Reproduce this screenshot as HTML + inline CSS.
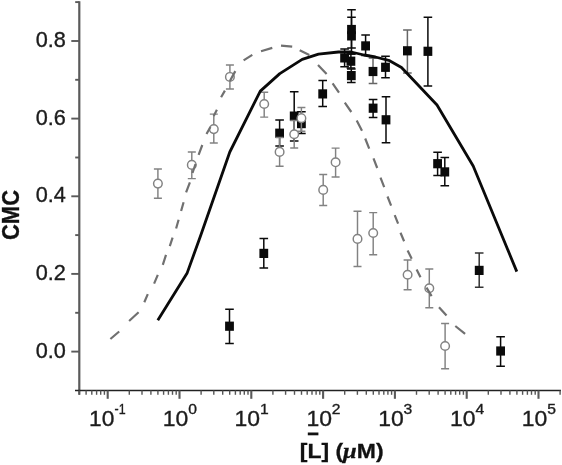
<!DOCTYPE html>
<html><head><meta charset="utf-8"><title>CMC plot</title>
<style>html,body{margin:0;padding:0;background:#fff}svg{display:block}text{font-family:"Liberation Sans",Arial,sans-serif}</style></head><body>
<svg width="562" height="465" viewBox="0 0 562 465">
<rect width="562" height="465" fill="#fff"/>
<line x1="79.3" y1="1.3" x2="79.3" y2="394.8" stroke="#5a5a5a" stroke-width="2.2"/>
<line x1="75" y1="390.5" x2="561" y2="390.5" stroke="#222" stroke-width="1.5"/>
<line x1="71.3" y1="351.6" x2="79.3" y2="351.6" stroke="#5a5a5a" stroke-width="1.9"/>
<line x1="75.2" y1="312.8" x2="79.3" y2="312.8" stroke="#5a5a5a" stroke-width="1.9"/>
<line x1="71.3" y1="273.9" x2="79.3" y2="273.9" stroke="#5a5a5a" stroke-width="1.9"/>
<line x1="75.2" y1="235.1" x2="79.3" y2="235.1" stroke="#5a5a5a" stroke-width="1.9"/>
<line x1="71.3" y1="196.3" x2="79.3" y2="196.3" stroke="#5a5a5a" stroke-width="1.9"/>
<line x1="75.2" y1="157.5" x2="79.3" y2="157.5" stroke="#5a5a5a" stroke-width="1.9"/>
<line x1="71.3" y1="118.6" x2="79.3" y2="118.6" stroke="#5a5a5a" stroke-width="1.9"/>
<line x1="75.2" y1="79.8" x2="79.3" y2="79.8" stroke="#5a5a5a" stroke-width="1.9"/>
<line x1="71.3" y1="41.0" x2="79.3" y2="41.0" stroke="#5a5a5a" stroke-width="1.9"/>
<line x1="75.2" y1="2.1" x2="79.3" y2="2.1" stroke="#5a5a5a" stroke-width="1.9"/>
<line x1="79.3" y1="390.5" x2="79.3" y2="394.8" stroke="#555" stroke-width="1.4"/>
<line x1="86.1" y1="390.5" x2="86.1" y2="394.8" stroke="#555" stroke-width="1.4"/>
<line x1="91.8" y1="390.5" x2="91.8" y2="394.8" stroke="#555" stroke-width="1.4"/>
<line x1="96.6" y1="390.5" x2="96.6" y2="394.8" stroke="#555" stroke-width="1.4"/>
<line x1="100.7" y1="390.5" x2="100.7" y2="394.8" stroke="#555" stroke-width="1.4"/>
<line x1="104.4" y1="390.5" x2="104.4" y2="394.8" stroke="#555" stroke-width="1.4"/>
<line x1="107.7" y1="390.5" x2="107.7" y2="398.8" stroke="#5a5a5a" stroke-width="2.1"/>
<line x1="129.3" y1="390.5" x2="129.3" y2="394.8" stroke="#555" stroke-width="1.4"/>
<line x1="142.0" y1="390.5" x2="142.0" y2="394.8" stroke="#555" stroke-width="1.4"/>
<line x1="150.9" y1="390.5" x2="150.9" y2="394.8" stroke="#555" stroke-width="1.4"/>
<line x1="157.9" y1="390.5" x2="157.9" y2="394.8" stroke="#555" stroke-width="1.4"/>
<line x1="163.6" y1="390.5" x2="163.6" y2="394.8" stroke="#555" stroke-width="1.4"/>
<line x1="168.4" y1="390.5" x2="168.4" y2="394.8" stroke="#555" stroke-width="1.4"/>
<line x1="172.5" y1="390.5" x2="172.5" y2="394.8" stroke="#555" stroke-width="1.4"/>
<line x1="176.2" y1="390.5" x2="176.2" y2="394.8" stroke="#555" stroke-width="1.4"/>
<line x1="179.5" y1="390.5" x2="179.5" y2="398.8" stroke="#5a5a5a" stroke-width="2.1"/>
<line x1="201.1" y1="390.5" x2="201.1" y2="394.8" stroke="#555" stroke-width="1.4"/>
<line x1="213.8" y1="390.5" x2="213.8" y2="394.8" stroke="#555" stroke-width="1.4"/>
<line x1="222.7" y1="390.5" x2="222.7" y2="394.8" stroke="#555" stroke-width="1.4"/>
<line x1="229.7" y1="390.5" x2="229.7" y2="394.8" stroke="#555" stroke-width="1.4"/>
<line x1="235.4" y1="390.5" x2="235.4" y2="394.8" stroke="#555" stroke-width="1.4"/>
<line x1="240.2" y1="390.5" x2="240.2" y2="394.8" stroke="#555" stroke-width="1.4"/>
<line x1="244.3" y1="390.5" x2="244.3" y2="394.8" stroke="#555" stroke-width="1.4"/>
<line x1="248.0" y1="390.5" x2="248.0" y2="394.8" stroke="#555" stroke-width="1.4"/>
<line x1="251.3" y1="390.5" x2="251.3" y2="398.8" stroke="#5a5a5a" stroke-width="2.1"/>
<line x1="272.9" y1="390.5" x2="272.9" y2="394.8" stroke="#555" stroke-width="1.4"/>
<line x1="285.6" y1="390.5" x2="285.6" y2="394.8" stroke="#555" stroke-width="1.4"/>
<line x1="294.5" y1="390.5" x2="294.5" y2="394.8" stroke="#555" stroke-width="1.4"/>
<line x1="301.5" y1="390.5" x2="301.5" y2="394.8" stroke="#555" stroke-width="1.4"/>
<line x1="307.2" y1="390.5" x2="307.2" y2="394.8" stroke="#555" stroke-width="1.4"/>
<line x1="312.0" y1="390.5" x2="312.0" y2="394.8" stroke="#555" stroke-width="1.4"/>
<line x1="316.1" y1="390.5" x2="316.1" y2="394.8" stroke="#555" stroke-width="1.4"/>
<line x1="319.8" y1="390.5" x2="319.8" y2="394.8" stroke="#555" stroke-width="1.4"/>
<line x1="323.1" y1="390.5" x2="323.1" y2="398.8" stroke="#5a5a5a" stroke-width="2.1"/>
<line x1="344.7" y1="390.5" x2="344.7" y2="394.8" stroke="#555" stroke-width="1.4"/>
<line x1="357.4" y1="390.5" x2="357.4" y2="394.8" stroke="#555" stroke-width="1.4"/>
<line x1="366.3" y1="390.5" x2="366.3" y2="394.8" stroke="#555" stroke-width="1.4"/>
<line x1="373.3" y1="390.5" x2="373.3" y2="394.8" stroke="#555" stroke-width="1.4"/>
<line x1="379.0" y1="390.5" x2="379.0" y2="394.8" stroke="#555" stroke-width="1.4"/>
<line x1="383.8" y1="390.5" x2="383.8" y2="394.8" stroke="#555" stroke-width="1.4"/>
<line x1="387.9" y1="390.5" x2="387.9" y2="394.8" stroke="#555" stroke-width="1.4"/>
<line x1="391.6" y1="390.5" x2="391.6" y2="394.8" stroke="#555" stroke-width="1.4"/>
<line x1="394.9" y1="390.5" x2="394.9" y2="398.8" stroke="#5a5a5a" stroke-width="2.1"/>
<line x1="416.5" y1="390.5" x2="416.5" y2="394.8" stroke="#555" stroke-width="1.4"/>
<line x1="429.2" y1="390.5" x2="429.2" y2="394.8" stroke="#555" stroke-width="1.4"/>
<line x1="438.1" y1="390.5" x2="438.1" y2="394.8" stroke="#555" stroke-width="1.4"/>
<line x1="445.1" y1="390.5" x2="445.1" y2="394.8" stroke="#555" stroke-width="1.4"/>
<line x1="450.8" y1="390.5" x2="450.8" y2="394.8" stroke="#555" stroke-width="1.4"/>
<line x1="455.6" y1="390.5" x2="455.6" y2="394.8" stroke="#555" stroke-width="1.4"/>
<line x1="459.7" y1="390.5" x2="459.7" y2="394.8" stroke="#555" stroke-width="1.4"/>
<line x1="463.4" y1="390.5" x2="463.4" y2="394.8" stroke="#555" stroke-width="1.4"/>
<line x1="466.7" y1="390.5" x2="466.7" y2="398.8" stroke="#5a5a5a" stroke-width="2.1"/>
<line x1="488.3" y1="390.5" x2="488.3" y2="394.8" stroke="#555" stroke-width="1.4"/>
<line x1="501.0" y1="390.5" x2="501.0" y2="394.8" stroke="#555" stroke-width="1.4"/>
<line x1="509.9" y1="390.5" x2="509.9" y2="394.8" stroke="#555" stroke-width="1.4"/>
<line x1="516.9" y1="390.5" x2="516.9" y2="394.8" stroke="#555" stroke-width="1.4"/>
<line x1="522.6" y1="390.5" x2="522.6" y2="394.8" stroke="#555" stroke-width="1.4"/>
<line x1="527.4" y1="390.5" x2="527.4" y2="394.8" stroke="#555" stroke-width="1.4"/>
<line x1="531.5" y1="390.5" x2="531.5" y2="394.8" stroke="#555" stroke-width="1.4"/>
<line x1="535.2" y1="390.5" x2="535.2" y2="394.8" stroke="#555" stroke-width="1.4"/>
<line x1="538.5" y1="390.5" x2="538.5" y2="398.8" stroke="#5a5a5a" stroke-width="2.1"/>
<line x1="560.1" y1="390.5" x2="560.1" y2="394.8" stroke="#555" stroke-width="1.4"/>
<text transform="translate(65.9,357.5) scale(1.01,1)" font-size="21.5" font-weight="normal" text-anchor="end" fill="#1c1c1c" stroke="#1c1c1c" stroke-width="0.35" >0.0</text>
<text transform="translate(65.9,279.8) scale(1.01,1)" font-size="21.5" font-weight="normal" text-anchor="end" fill="#1c1c1c" stroke="#1c1c1c" stroke-width="0.35" >0.2</text>
<text transform="translate(65.9,202.2) scale(1.01,1)" font-size="21.5" font-weight="normal" text-anchor="end" fill="#1c1c1c" stroke="#1c1c1c" stroke-width="0.35" >0.4</text>
<text transform="translate(65.9,124.5) scale(1.01,1)" font-size="21.5" font-weight="normal" text-anchor="end" fill="#1c1c1c" stroke="#1c1c1c" stroke-width="0.35" >0.6</text>
<text transform="translate(65.9,46.9) scale(1.01,1)" font-size="21.5" font-weight="normal" text-anchor="end" fill="#1c1c1c" stroke="#1c1c1c" stroke-width="0.35" >0.8</text>
<text transform="translate(89.0,426.4) scale(1.02,1)" font-size="22.3" font-weight="normal" text-anchor="start" fill="#1c1c1c" stroke="#1c1c1c" stroke-width="0.35" >10</text>
<text transform="translate(114.6,414.4) scale(0.86,1)" font-size="14.5" font-weight="normal" text-anchor="start" fill="#1c1c1c" stroke="#1c1c1c" stroke-width="0.35" >-1</text>
<text transform="translate(162.8,426.4) scale(1.03,1)" font-size="22.3" font-weight="normal" text-anchor="start" fill="#1c1c1c" stroke="#1c1c1c" stroke-width="0.35" >10</text>
<text transform="translate(188.2,414.4) scale(1.08,1)" font-size="14.5" font-weight="normal" text-anchor="start" fill="#1c1c1c" stroke="#1c1c1c" stroke-width="0.35" >0</text>
<text transform="translate(234.6,426.4) scale(1.03,1)" font-size="22.3" font-weight="normal" text-anchor="start" fill="#1c1c1c" stroke="#1c1c1c" stroke-width="0.35" >10</text>
<text transform="translate(260.0,414.4) scale(1.08,1)" font-size="14.5" font-weight="normal" text-anchor="start" fill="#1c1c1c" stroke="#1c1c1c" stroke-width="0.35" >1</text>
<text transform="translate(306.4,426.4) scale(1.03,1)" font-size="22.3" font-weight="normal" text-anchor="start" fill="#1c1c1c" stroke="#1c1c1c" stroke-width="0.35" >10</text>
<text transform="translate(331.8,414.4) scale(1.08,1)" font-size="14.5" font-weight="normal" text-anchor="start" fill="#1c1c1c" stroke="#1c1c1c" stroke-width="0.35" >2</text>
<text transform="translate(378.2,426.4) scale(1.03,1)" font-size="22.3" font-weight="normal" text-anchor="start" fill="#1c1c1c" stroke="#1c1c1c" stroke-width="0.35" >10</text>
<text transform="translate(403.6,414.4) scale(1.08,1)" font-size="14.5" font-weight="normal" text-anchor="start" fill="#1c1c1c" stroke="#1c1c1c" stroke-width="0.35" >3</text>
<text transform="translate(450.0,426.4) scale(1.03,1)" font-size="22.3" font-weight="normal" text-anchor="start" fill="#1c1c1c" stroke="#1c1c1c" stroke-width="0.35" >10</text>
<text transform="translate(475.4,414.4) scale(1.08,1)" font-size="14.5" font-weight="normal" text-anchor="start" fill="#1c1c1c" stroke="#1c1c1c" stroke-width="0.35" >4</text>
<text transform="translate(521.8,426.4) scale(1.03,1)" font-size="22.3" font-weight="normal" text-anchor="start" fill="#1c1c1c" stroke="#1c1c1c" stroke-width="0.35" >10</text>
<text transform="translate(547.2,414.4) scale(1.08,1)" font-size="14.5" font-weight="normal" text-anchor="start" fill="#1c1c1c" stroke="#1c1c1c" stroke-width="0.35" >5</text>
<text transform="translate(19.3,215) rotate(-90) scale(1,1.12)" font-size="22" font-weight="bold" text-anchor="middle" fill="#111" stroke="#111" stroke-width="0.3">CMC</text>
<text transform="translate(299.8,458.2) scale(1.12,1)" font-size="20.5" font-weight="bold" fill="#111" stroke="#111" stroke-width="0.3">[L] (<tspan font-style="italic" font-size="22" font-family="Liberation Serif,serif">μ</tspan>M)</text>
<rect x="307.8" y="432.5" width="10.6" height="2.8" fill="#111"/>
<path d="M229.5,309.3V343.6M225.2,309.3H233.8M225.2,343.6H233.8" stroke="#0a0a0a" stroke-width="1.5" fill="none"/>
<path d="M263.8,238.6V268.1M259.5,238.6H268.1M259.5,268.1H268.1" stroke="#0a0a0a" stroke-width="1.5" fill="none"/>
<path d="M279.6,119.9V146.0M275.3,119.9H283.90000000000003M275.3,146.0H283.90000000000003" stroke="#0a0a0a" stroke-width="1.5" fill="none"/>
<path d="M294.2,91.7V141.0M289.9,91.7H298.5M289.9,141.0H298.5" stroke="#0a0a0a" stroke-width="1.5" fill="none"/>
<path d="M301.4,111.8V133.6M297.09999999999997,111.8H305.7M297.09999999999997,133.6H305.7" stroke="#0a0a0a" stroke-width="1.5" fill="none"/>
<path d="M322.7,80.6V106.6M318.4,80.6H327.0M318.4,106.6H327.0" stroke="#0a0a0a" stroke-width="1.5" fill="none"/>
<path d="M344.6,49.0V66.7M340.3,49.0H348.90000000000003M340.3,66.7H348.90000000000003" stroke="#0a0a0a" stroke-width="1.5" fill="none"/>
<path d="M351.5,9.7V48M347.2,9.7H355.8M347.2,48H355.8" stroke="#0a0a0a" stroke-width="1.5" fill="none"/>
<path d="M351.5,17.2V54M347.2,17.2H355.8M347.2,54H355.8" stroke="#0a0a0a" stroke-width="1.5" fill="none"/>
<path d="M350.9,54V68M346.59999999999997,54H355.2M346.59999999999997,68H355.2" stroke="#0a0a0a" stroke-width="1.5" fill="none"/>
<path d="M351.3,68.9V82.4M347.0,68.9H355.6M347.0,82.4H355.6" stroke="#0a0a0a" stroke-width="1.5" fill="none"/>
<path d="M365.6,35.0V55.5M361.3,35.0H369.90000000000003M361.3,55.5H369.90000000000003" stroke="#0a0a0a" stroke-width="1.5" fill="none"/>
<path d="M373.0,58.0V83.4M368.7,58.0H377.3M368.7,83.4H377.3" stroke="#666" stroke-width="1.5" fill="none"/>
<path d="M385.5,56.3V77.8M381.2,56.3H389.8M381.2,77.8H389.8" stroke="#0a0a0a" stroke-width="1.5" fill="none"/>
<path d="M373.1,99.4V117.4M368.8,99.4H377.40000000000003M368.8,117.4H377.40000000000003" stroke="#0a0a0a" stroke-width="1.5" fill="none"/>
<path d="M386.0,96.8V142.7M381.7,96.8H390.3M381.7,142.7H390.3" stroke="#0a0a0a" stroke-width="1.5" fill="none"/>
<path d="M407.4,30.1V73.1M403.09999999999997,30.1H411.7M403.09999999999997,73.1H411.7" stroke="#666" stroke-width="1.5" fill="none"/>
<path d="M427.9,17.2V86.0M423.59999999999997,17.2H432.2M423.59999999999997,86.0H432.2" stroke="#0a0a0a" stroke-width="1.5" fill="none"/>
<path d="M437.6,152.3V175.5M433.3,152.3H441.90000000000003M433.3,175.5H441.90000000000003" stroke="#0a0a0a" stroke-width="1.5" fill="none"/>
<path d="M444.8,157.4V185.8M440.5,157.4H449.1M440.5,185.8H449.1" stroke="#0a0a0a" stroke-width="1.5" fill="none"/>
<path d="M479.2,252.9V287.2M474.9,252.9H483.5M474.9,287.2H483.5" stroke="#333" stroke-width="1.5" fill="none"/>
<path d="M500.6,336.8V366.3M496.3,336.8H504.90000000000003M496.3,366.3H504.90000000000003" stroke="#0a0a0a" stroke-width="1.5" fill="none"/>
<rect x="225.1" y="321.6" width="8.8" height="9.2" fill="#0a0a0a"/>
<rect x="259.4" y="248.8" width="8.8" height="9.2" fill="#0a0a0a"/>
<rect x="275.2" y="128.6" width="8.8" height="9.2" fill="#0a0a0a"/>
<rect x="289.8" y="111.5" width="8.8" height="9.2" fill="#0a0a0a"/>
<rect x="297.0" y="119.0" width="8.8" height="9.2" fill="#0a0a0a"/>
<rect x="318.3" y="89.3" width="8.8" height="9.2" fill="#0a0a0a"/>
<rect x="340.2" y="53.3" width="8.8" height="9.2" fill="#0a0a0a"/>
<rect x="347.1" y="24.9" width="8.8" height="9.2" fill="#0a0a0a"/>
<rect x="347.1" y="31.3" width="8.8" height="9.2" fill="#0a0a0a"/>
<rect x="346.5" y="56.6" width="8.8" height="9.2" fill="#0a0a0a"/>
<rect x="346.9" y="71.0" width="8.8" height="9.2" fill="#0a0a0a"/>
<rect x="361.2" y="41.3" width="8.8" height="9.2" fill="#0a0a0a"/>
<rect x="368.6" y="66.9" width="8.8" height="9.2" fill="#0a0a0a"/>
<rect x="381.1" y="62.7" width="8.8" height="9.2" fill="#0a0a0a"/>
<rect x="368.7" y="103.6" width="8.8" height="9.2" fill="#0a0a0a"/>
<rect x="381.6" y="115.2" width="8.8" height="9.2" fill="#0a0a0a"/>
<rect x="403.0" y="46.2" width="8.8" height="9.2" fill="#0a0a0a"/>
<rect x="423.5" y="46.7" width="8.8" height="9.2" fill="#0a0a0a"/>
<rect x="433.2" y="159.1" width="8.8" height="9.2" fill="#0a0a0a"/>
<rect x="440.4" y="167.3" width="8.8" height="9.2" fill="#0a0a0a"/>
<rect x="474.8" y="265.8" width="8.8" height="9.2" fill="#0a0a0a"/>
<rect x="496.2" y="346.4" width="8.8" height="9.2" fill="#0a0a0a"/>
<path d="M157.9,169.0V198.2M153.9,169.0H161.9M153.9,198.2H161.9" stroke="#828282" stroke-width="1.45" fill="none"/>
<circle cx="157.9" cy="183.6" r="4.3" fill="#fff" stroke="#828282" stroke-width="1.45"/>
<path d="M191.8,151.9V178.6M187.8,151.9H195.8M187.8,178.6H195.8" stroke="#828282" stroke-width="1.45" fill="none"/>
<circle cx="191.8" cy="164.9" r="4.3" fill="#fff" stroke="#828282" stroke-width="1.45"/>
<path d="M213.8,114.1V143.0M209.8,114.1H217.8M209.8,143.0H217.8" stroke="#828282" stroke-width="1.45" fill="none"/>
<circle cx="213.8" cy="129.1" r="4.3" fill="#fff" stroke="#828282" stroke-width="1.45"/>
<path d="M229.9,64.9V88.9M225.9,64.9H233.9M225.9,88.9H233.9" stroke="#828282" stroke-width="1.45" fill="none"/>
<circle cx="229.9" cy="76.9" r="4.3" fill="#fff" stroke="#828282" stroke-width="1.45"/>
<path d="M264.2,92.3V117.1M260.2,92.3H268.2M260.2,117.1H268.2" stroke="#828282" stroke-width="1.45" fill="none"/>
<circle cx="264.2" cy="104" r="4.3" fill="#fff" stroke="#828282" stroke-width="1.45"/>
<path d="M279.6,137.5V166.3M275.6,137.5H283.6M275.6,166.3H283.6" stroke="#828282" stroke-width="1.45" fill="none"/>
<circle cx="279.6" cy="151.9" r="4.3" fill="#fff" stroke="#828282" stroke-width="1.45"/>
<path d="M294.2,120.5V147.9M290.2,120.5H298.2M290.2,147.9H298.2" stroke="#828282" stroke-width="1.45" fill="none"/>
<circle cx="294.2" cy="134.2" r="4.3" fill="#fff" stroke="#828282" stroke-width="1.45"/>
<path d="M301.4,107.5V131.2M297.4,107.5H305.4M297.4,131.2H305.4" stroke="#828282" stroke-width="1.45" fill="none"/>
<circle cx="301.4" cy="118.2" r="4.3" fill="#fff" stroke="#828282" stroke-width="1.45"/>
<path d="M323.2,174.4V205.4M319.2,174.4H327.2M319.2,205.4H327.2" stroke="#828282" stroke-width="1.45" fill="none"/>
<circle cx="323.2" cy="189.9" r="4.3" fill="#fff" stroke="#828282" stroke-width="1.45"/>
<path d="M335.6,148.1V177M331.6,148.1H339.6M331.6,177H339.6" stroke="#828282" stroke-width="1.45" fill="none"/>
<circle cx="335.6" cy="162.3" r="4.3" fill="#fff" stroke="#828282" stroke-width="1.45"/>
<path d="M357.5,211.3V266.5M353.5,211.3H361.5M353.5,266.5H361.5" stroke="#828282" stroke-width="1.45" fill="none"/>
<circle cx="357.5" cy="238.9" r="4.3" fill="#fff" stroke="#828282" stroke-width="1.45"/>
<path d="M373.2,212.6V254.8M369.2,212.6H377.2M369.2,254.8H377.2" stroke="#828282" stroke-width="1.45" fill="none"/>
<circle cx="373.2" cy="233.0" r="4.3" fill="#fff" stroke="#828282" stroke-width="1.45"/>
<path d="M407.6,260V289.7M403.6,260H411.6M403.6,289.7H411.6" stroke="#828282" stroke-width="1.45" fill="none"/>
<circle cx="407.6" cy="274.7" r="4.3" fill="#fff" stroke="#828282" stroke-width="1.45"/>
<path d="M429.3,269V307.7M425.3,269H433.3M425.3,307.7H433.3" stroke="#828282" stroke-width="1.45" fill="none"/>
<circle cx="429.3" cy="288.3" r="4.3" fill="#fff" stroke="#828282" stroke-width="1.45"/>
<path d="M445.1,323.4V368.7M441.1,323.4H449.1M441.1,368.7H449.1" stroke="#828282" stroke-width="1.45" fill="none"/>
<circle cx="445.1" cy="346" r="4.3" fill="#fff" stroke="#828282" stroke-width="1.45"/>
<path d="M110.4,339L119.2,331.5 M129.1,321L138.6,312.3 M144.3,302.3L147.8,294.1 M154.1,283.6L157.8,274.9 M162.8,264.9L166,254.9 M169.8,246.2L172.6,237.6 M176.1,228.5L178.6,219.8 M181.1,211L183.6,202.3 M186.1,192.3L189.9,182.4 M192.5,173L195.5,164 M198.6,154.9L202.3,145 M206.5,134L210.4,127 M213.7,116L216.9,109.8 M221.1,97.3L224.9,90.6 M229.9,81L235.3,71.1 M243.6,60.4L252.3,54.9 M261,51.2L272.3,47.9 M281,45.7L292.2,46.7 M299.7,50.2L309.3,55 M318,65.1L326.6,74.1 M332.6,83.4L339,92.6 M344.8,102.7L351.3,112 M356.7,120.6L362,130.7 M365.2,138.5L369.2,148.6 M373.5,158.3L377.2,168 M380.5,177.6L384.2,187.2 M387.5,196.5L391.1,205.6 M394.7,215.2L398.1,223.6 M400.5,232.8L404.1,241.3 M407.6,250.5L411.7,258.7 M416.6,269.5L420.5,277.3 M426.5,287.6L431.6,296.1 M439,307.2L446.5,315.6 M455.3,326L465.1,333.8" stroke="#707070" stroke-width="2.2" fill="none"/>
<polyline points="157.8,320.3 187.2,272.9 200.5,236 229.8,152 260.3,91.1 279.8,73.6 302.2,59.4 318.5,54.2 338.4,52 351.2,52 364,55 375.4,57 389.6,60.7 401.5,67.5 437,105 473.2,166 516.8,271.6" stroke="#0a0a0a" stroke-width="2.8" fill="none" stroke-linejoin="round"/>
</svg></body></html>
